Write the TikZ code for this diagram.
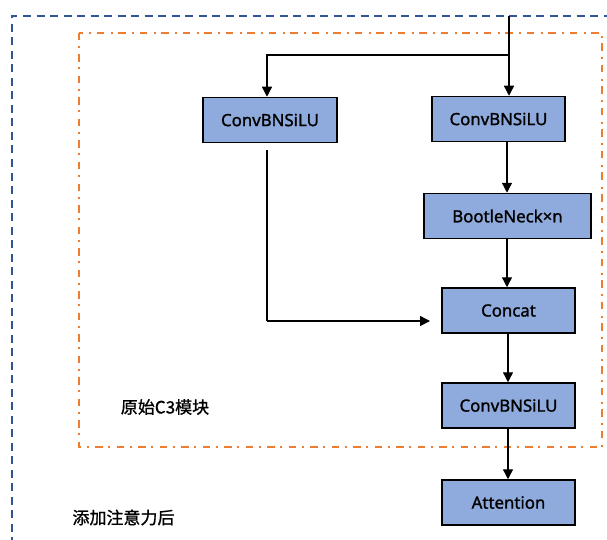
\documentclass[tikz,border=0pt]{standalone}
\usepackage{fontspec}
\setmainfont{Noto Sans}
\newfontfamily\boxfont{Noto Sans}[RawFeature={embolden=1.3}]
\newfontfamily\cjk{Noto Sans CJK SC}[RawFeature={embolden=1.0}]
\usetikzlibrary{arrows.meta,calc}
\definecolor{boxfill}{HTML}{8FAADC}
\definecolor{outerblue}{HTML}{2F5597}
\definecolor{innerorange}{HTML}{ED7D31}
\tikzset{
  blk/.style={draw=black, line width=1.5pt, fill=boxfill, minimum height=45pt, inner sep=0pt, font=\boxfont\fontsize{16.8}{18}\selectfont},
  conn/.style={line width=1.4pt, -{Triangle[length=10pt,width=10pt]}},
  plain/.style={line width=1.4pt},
  outerframe/.style={draw=outerblue, line width=1.6pt, dash pattern=on 8pt off 5.5pt},
  innerframe/.style={draw=innerorange, line width=1.6pt, dash pattern=on 7.5pt off 5.5pt on 2pt off 6.5pt},
  lbl/.style={font=\cjk\fontsize{17}{19}\selectfont, inner sep=0pt}
}
\begin{document}
\begin{tikzpicture}[x=1pt,y=-1pt]
\useasboundingbox (0,0) rectangle (607,540);
\fill[white] (0,0) rectangle (607,540);
% frames
\draw[outerframe] (12,545) -- (12,16) -- (612,16);
\draw[innerframe] (79,33) rectangle (602,447);
% nodes
\node[blk, minimum width=134pt] (L1) at (270,120) {ConvBNSiLU};
\node[blk, minimum width=133pt] (R1) at (498.5,119) {ConvBNSiLU};
\node[blk, minimum width=167pt] (BN) at (507.5,216) {BootleNeck×n};
\node[blk, minimum width=133pt] (CC) at (508.5,310.5) {Concat};
\node[blk, minimum width=133pt] (R2) at (508.5,405.5) {ConvBNSiLU};
\node[blk, minimum width=133pt] (AT) at (508.5,502.5) {Attention};
\node[lbl] (t1) at (165,407) {原始C3模块};
\node[lbl] (t2) at (123.5,517.5) {添加注意力后};
% coordinates
\coordinate (in) at (509,16);
\coordinate (br) at (509,55);
\coordinate (ls) at (267,150);
\coordinate (lc) at (267,321);
\coordinate (le) at (430,321);
% connectors
\draw[conn] (in) -- (in |- R1.north);
\draw[conn] (br) -| (ls |- L1.north);
\draw[plain] (ls) -- (lc);
\draw[conn] (lc) -- (le);
\draw[conn] (507,0 |- R1.south) -- (507,0 |- BN.north);
\draw[conn] (507,0 |- BN.south) -- (507,0 |- CC.north);
\draw[conn] (508,0 |- CC.south) -- (508,0 |- R2.north);
\draw[conn] (508,0 |- R2.south) -- (508,0 |- AT.north);
\end{tikzpicture}
\end{document}
